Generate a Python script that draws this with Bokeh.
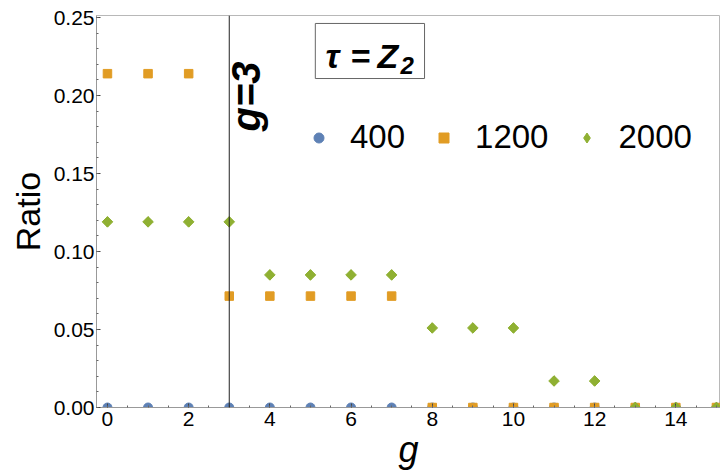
import math
from bokeh.plotting import figure
from bokeh.models import (Label, Legend, LegendItem, Span, FixedTicker, BoxAnnotation,
                          NumeralTickFormatter, Range1d, ColumnDataSource)
from bokeh.embed import file_html
from bokeh.resources import INLINE

# ---- data ----
g_vals = list(range(16))
ratio_400 = [0.0] * 16
ratio_1200 = [0.214, 0.214, 0.214, 0.0714, 0.0714, 0.0714, 0.0714, 0.0714,
              0.0, 0.0, 0.0, 0.0, 0.0, 0.0, 0.0, 0.0]
ratio_2000 = [0.119, 0.119, 0.119, 0.119, 0.085, 0.085, 0.085, 0.085,
              0.051, 0.051, 0.051, 0.017, 0.017, 0.0, 0.0, 0.0]
series_names = ["400", "1200", "2000"]
marker_g = 3
x_ticks = [0, 2, 4, 6, 8, 10, 12, 14]
x_minor = [i * 0.5 for i in range(-1, 32)]
y_ticks = [0.0, 0.05, 0.10, 0.15, 0.20, 0.25]
y_minor = [i * 0.01 for i in range(0, 26)]

BLUE = "#5E81B5"
ORANGE = "#E19C24"
GREEN = "#8FB032"
FONT = "Liberation Sans"

p = figure(width=720, height=475, output_backend="svg", toolbar_location=None,
           x_range=Range1d(-0.27, 15.1), y_range=Range1d(0.0, 0.2513),
           min_border_left=96, min_border_right=0, min_border_top=15,
           min_border_bottom=68)
p.background_fill_color = "white"
p.border_fill_color = "white"
p.outline_line_color = "#b8b8b8"
p.grid.visible = False

src = ColumnDataSource(dict(g=g_vals, a=ratio_400, b=ratio_1200, c=ratio_2000))
r1 = p.scatter("g", "a", source=src, marker="circle", size=9,
               fill_color=BLUE, line_color=BLUE)
r2 = p.scatter("g", "b", source=src, marker="square", size=8.5,
               fill_color=ORANGE, line_color=ORANGE)
# narrow diamond used for the legend entry; hidden under the rotated squares
r3_leg = p.scatter("g", "c", source=src, marker="diamond", size=10,
                   fill_color=GREEN, line_color=GREEN)
r3 = p.scatter("g", "c", source=src, marker="square", angle=math.pi / 4, size=7.5,
               fill_color=GREEN, line_color=GREEN)

p.add_layout(Span(location=marker_g, dimension="height", line_color="#222222",
                  line_width=1))

# axes
for ax in (p.xaxis[0], p.yaxis[0]):
    ax.axis_line_color = "#999999"
    ax.major_tick_line_color = "#444444"
    ax.minor_tick_line_color = "#666666"
    ax.major_tick_in = 4
    ax.major_tick_out = 0
    ax.minor_tick_in = 2
    ax.minor_tick_out = 0
    ax.major_label_text_font = FONT
    ax.major_label_text_font_size = "21px"
    ax.major_label_text_color = "black"
    ax.axis_label_text_font = FONT
    ax.axis_label_text_color = "black"
p.xaxis.major_label_standoff = 4
p.yaxis.major_label_standoff = 2

p.xaxis.ticker = FixedTicker(ticks=x_ticks, minor_ticks=x_minor)
p.yaxis.ticker = FixedTicker(ticks=y_ticks, minor_ticks=y_minor)
p.yaxis.formatter = NumeralTickFormatter(format="0.00")

p.yaxis.axis_label = "Ratio"
p.yaxis.axis_label_text_font_size = "34px"
p.yaxis.axis_label_text_font_style = "normal"
p.yaxis.axis_label_standoff = 4
p.xaxis.axis_label = "g"
p.xaxis.axis_label_text_font_size = "36px"
p.xaxis.axis_label_text_font_style = "italic"
p.xaxis.axis_label_standoff = 0

# annotations
p.add_layout(Label(x=3.42, y=0.1994, text="g=3", angle=math.pi / 2,
                   text_align="center", text_baseline="middle",
                   text_font=FONT, text_font_style="bold italic",
                   text_font_size="40px", text_color="black"))

p.add_layout(BoxAnnotation(left=5.12, right=7.81, bottom=0.2109, top=0.2462,
                           fill_color="white", fill_alpha=1.0,
                           line_color="#666666", line_alpha=1.0, line_width=1))
p.add_layout(Label(x=5.37, y=0.2256, text="τ", text_align="left",
                   text_baseline="alphabetic", text_font=FONT,
                   text_font_style="bold italic", text_font_size="34px",
                   text_color="black"))
p.add_layout(Label(x=5.98, y=0.2256, text="=", text_align="left",
                   text_baseline="alphabetic", text_font=FONT,
                   text_font_style="bold italic", text_font_size="34px",
                   text_color="black"))
p.add_layout(Label(x=6.65, y=0.2256, text="Z", text_align="left",
                   text_baseline="alphabetic", text_font=FONT,
                   text_font_style="bold italic", text_font_size="34px",
                   text_color="black"))
p.add_layout(Label(x=7.22, y=0.2192, text="2", text_align="left",
                   text_baseline="alphabetic", text_font=FONT,
                   text_font_style="bold italic", text_font_size="24px",
                   text_color="black"))

legend = Legend(items=[LegendItem(label=series_names[0], renderers=[r1]),
                       LegendItem(label=series_names[1], renderers=[r2]),
                       LegendItem(label=series_names[2], renderers=[r3_leg])],
                orientation="horizontal", location=(210, 251),
                glyph_width=25, glyph_height=25, label_standoff=19,
                spacing=26, padding=0, margin=0,
                border_line_color=None, background_fill_alpha=0,
                label_text_font=FONT, label_text_font_size="33px",
                label_text_color="black")
p.add_layout(legend)

open("out.html", "w").write(file_html(p, INLINE))
